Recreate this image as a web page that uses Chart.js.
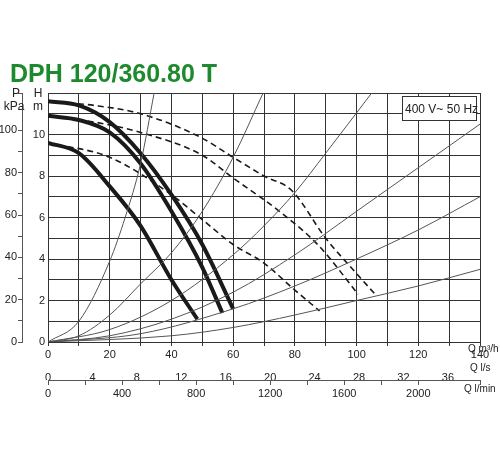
<!DOCTYPE html>
<html>
<head>
<meta charset="utf-8">
<script src="https://cdn.jsdelivr.net/npm/chart.js@4/dist/chart.umd.min.js"></script>
<style>
  body { margin: 0; background: #fff; }
  canvas { display: block; }
</style>
</head>
<body>
<canvas id="chart" width="500" height="450"></canvas>
<script>
// pump curves, Q in m3/h, H in m
const pumpMax = [[0, 11.6], [10, 11.4], [20, 10.6], [30, 9.1], [40, 7.1], [50, 4.7], [60, 1.6]];
const pumpMid = [[0, 10.9], [10, 10.7], [20, 10.1], [30, 8.6], [40, 6.3], [50, 3.6], [56.5, 1.4]];
const pumpMin = [[0, 9.6], [10, 9.1], [20, 7.5], [30, 5.6], [40, 3.0], [48.4, 1.1]];

const dashMax = [[0, 11.6], [15, 11.4], [30, 11.0], [49, 9.9], [60, 8.9], [70, 8.0], [79, 7.3], [90, 5.0], [100, 3.3], [106, 2.3]];
const dashMid = [[0, 10.9], [15, 10.6], [30, 10.1], [50, 9.0], [60, 7.9], [75, 6.3], [88, 4.6], [100.5, 2.3]];
const dashMin = [[0, 9.6], [20, 8.9], [40, 7.1], [50, 5.9], [60, 4.7], [70, 3.8], [80, 2.5], [88, 1.5]];

const sys1 = [[0, 0], [10, 1.0], [20, 3.9], [25, 6.0], [30, 8.6], [34.4, 12]];
const sys2 = [[0, 0], [10, 0.3], [20, 1.3], [30, 2.8], [40, 4.3], [50, 6.3], [60, 8.9], [69.7, 12]];
const sys3 = [[0, 0], [20, 0.6], [40, 2.0], [60, 4.2], [70, 5.6], [80, 7.2], [90, 9.1], [104.9, 12]];
const sys4 = [[0, 0], [20, 0.3], [40, 1.1], [60, 2.4], [80, 4.2], [100, 6.3], [120, 8.4], [140, 10.5]];
const sys5 = [[0, 0], [30, 0.4], [60, 1.6], [80, 2.7], [100, 4.0], [120, 5.4], [140, 7.0]];
const sys6 = [[0, 0], [40, 0.3], [60, 0.7], [80, 1.3], [100, 2.0], [120, 2.7], [140, 3.5]];

const qMax = 140;
const hMax = 12;

const pts = a => a.map(([x, y]) => ({ x, y }));
const ink = "#222";
const tickFont = { family: "Liberation Sans", size: 11 };

function base(d) {
  return { data: pts(d), xAxisID: "x", yAxisID: "y", pointRadius: 0, cubicInterpolationMode: "monotone" };
}
function thick(d) {
  return { ...base(d), borderColor: "#1a1a1a", borderWidth: 4, borderCapStyle: "butt" };
}
function dashed(d) {
  return { ...base(d), borderColor: "#1a1a1a", borderWidth: 1.6, borderDash: [6, 4] };
}
function thin(d) {
  return { ...base(d), borderColor: "#555", borderWidth: 1 };
}

const labels = {
  id: "labels",
  afterDraw(chart) {
    const c = chart.ctx;
    c.save();
    c.fillStyle = "#1e8a2e";
    c.font = "bold 25px 'Liberation Sans'";
    c.textBaseline = "alphabetic";
    c.fillText("DPH 120/360.80 T", 10, 82);
    c.fillStyle = ink;
    c.font = "12px 'Liberation Sans'";
    c.textAlign = "center";
    c.fillText("P", 16, 97);
    c.fillText("kPa", 14, 110);
    c.fillText("H", 38, 97);
    c.fillText("m", 38, 110);
    c.textAlign = "left";
    c.font = "10px 'Liberation Sans'";
    c.fillText("Q m³/h", 468, 352);
    c.fillText("Q l/s", 470, 371);
    c.fillText("Q l/min", 464, 392);
    // voltage box
    c.fillStyle = "#fff";
    c.fillRect(402, 96, 74, 24);
    c.strokeStyle = "#333";
    c.lineWidth = 1;
    c.strokeRect(402.5, 96.5, 74, 24);
    c.fillStyle = ink;
    c.font = "12px 'Liberation Sans'";
    c.fillText("400 V~ 50 Hz", 405, 113);
    c.restore();
  }
};

new Chart(document.getElementById("chart"), {
  type: "line",
  data: {
    datasets: [
      thin(sys1), thin(sys2), thin(sys3), thin(sys4), thin(sys5), thin(sys6),
      dashed(dashMax), dashed(dashMid), dashed(dashMin),
      thick(pumpMax), thick(pumpMid), thick(pumpMin)
    ]
  },
  options: {
    responsive: false,
    animation: false,
    layout: { padding: { top: 93, right: 20, bottom: 48, left: 0 } },
    plugins: { legend: { display: false }, tooltip: { enabled: false } },
    scales: {
      y: {
        type: "linear", min: 0, max: hMax, position: "left",
        ticks: { stepSize: 1, font: tickFont, color: ink, padding: 3, callback: v => v % 2 === 0 && v < 12 ? v : "" },
        grid: { color: "#333", lineWidth: 1, tickLength: 0 },
        border: { color: "#333" },
        afterFit: s => { s.width = 26; }
      },
      p: {
        type: "linear", min: 0, max: hMax * 9.807, position: "left",
        ticks: { stepSize: 10, font: tickFont, color: ink, padding: 1, callback: v => v % 20 === 0 ? v : "" },
        grid: { drawOnChartArea: false, color: "#555", tickLength: 4 },
        border: { color: "#555" },
        afterFit: s => { s.width = 22; }
      },
      x: {
        type: "linear", min: 0, max: qMax, position: "bottom",
        ticks: { stepSize: 10, font: tickFont, color: ink, padding: 2, callback: v => v % 20 === 0 ? v : "" },
        grid: { color: "#333", lineWidth: 1, tickLength: 4 },
        border: { color: "#333" },
        afterFit: s => { s.height = 20; }
      },
      ls: {
        type: "linear", min: 0, max: qMax / 3.6, position: "bottom",
        ticks: { stepSize: 2, font: tickFont, color: ink, padding: 1, callback: v => v % 4 === 0 ? v : "" },
        grid: { display: false },
        border: { display: false },
        afterFit: s => { s.height = 18; }
      },
      lmin: {
        type: "linear", min: 0, max: qMax * 1000 / 60, position: "bottom",
        ticks: { stepSize: 200, font: tickFont, color: ink, padding: 2, callback: v => v % 400 === 0 ? v : "" },
        grid: { drawOnChartArea: false, color: "#555", tickLength: 5 },
        border: { color: "#555" },
        afterFit: s => { s.height = 22; }
      }
    }
  },
  plugins: [labels]
});
</script>
</body>
</html>
